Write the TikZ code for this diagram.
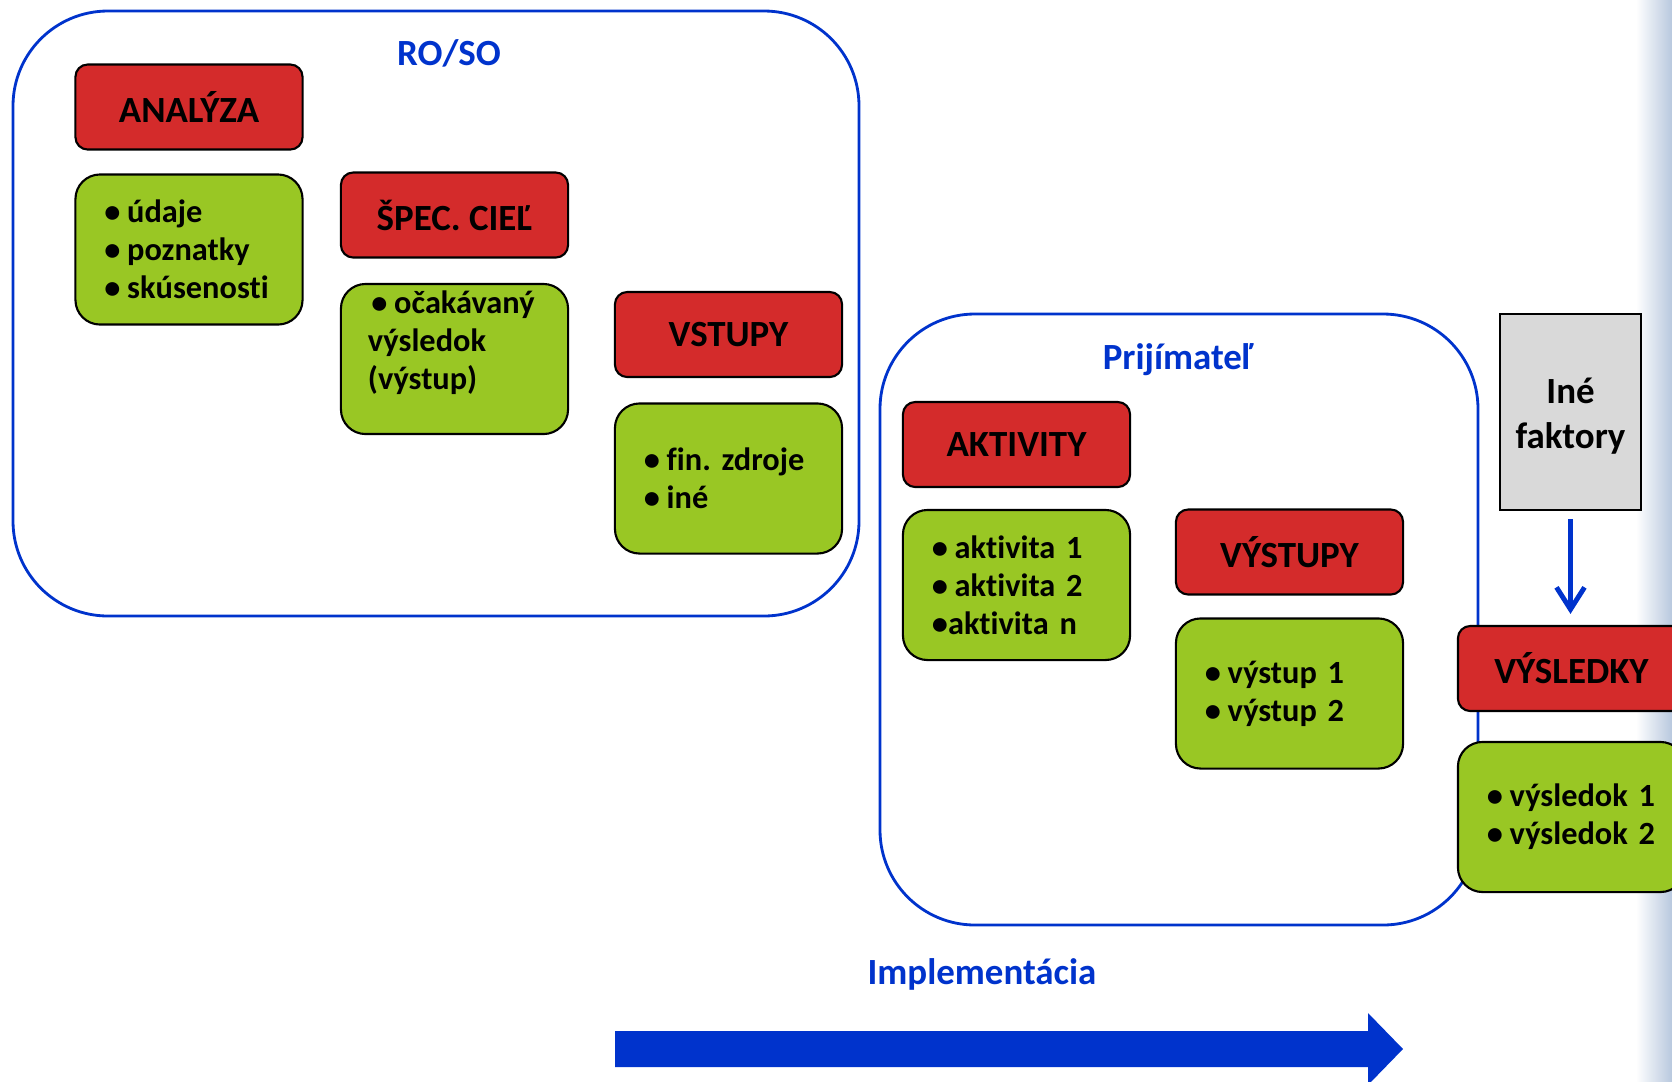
\documentclass[tikz,border=0pt]{standalone}
\usepackage{fontspec}
\setmainfont{Carlito}[Ligatures=NoCommon]
\usetikzlibrary{arrows.meta}
\definecolor{boxred}{RGB}{212,43,43}
\definecolor{boxgreen}{RGB}{153,199,36}
\definecolor{roblue}{RGB}{0,51,204}
\definecolor{boxgray}{RGB}{217,217,217}
\definecolor{stripblue}{RGB}{184,200,222}
\hyphenpenalty=10000
\exhyphenpenalty=10000
\newcommand{\lbul}{•\hspace{1.9pt}}
\begin{document}
\begin{tikzpicture}[x=0.01cm,y=-0.01cm,
    every node/.style={font=\bfseries\fontsize{10.5}{10.8}\selectfont},
    redbox/.style={draw,line width=0.6pt,fill=boxred,rounded corners=3.5pt,
        minimum width=2.27cm,minimum height=0.85cm,inner sep=0pt},
    greenbox/.style={draw,line width=0.6pt,fill=boxgreen,rounded corners=7pt,
        minimum width=2.27cm,minimum height=1.5cm,text width=1.69cm,
        inner xsep=0.29cm,inner ysep=0pt,align=left,
        font=\bfseries\fontsize{9.2}{10.8}\selectfont},
    framebox/.style={draw=roblue,line width=0.8pt,rounded corners=27pt},
    bluetext/.style={text=roblue}]
    \useasboundingbox (0,0) rectangle (1672,1081);
    \clip (0,0) rectangle (1672,1081);
    \shade[left color=white,right color=stripblue] (1636,0) rectangle (1672,1081);
    % RO/SO a prijimatel
    \draw[framebox] (13,11) rectangle (859,616);
    \draw[framebox] (880,314) rectangle (1478,925);
    \node[bluetext] (roso) at (449,53) {RO/SO};
    \node[bluetext] (prij) at (1178,360) {Prijímateľ};
    % cervene
    \foreach \x/\y/\n/\t in {189/107/analyza/ANALÝZA, 454.5/215/ciel/ŠPEC. CIEĽ,
        728.5/334.5/vstupy/VSTUPY, 1016.5/444.5/aktivity/AKTIVITY,
        1289.5/552/vystupy/VÝSTUPY, 1571.5/668.5/vysledky/VÝSLEDKY}
    \node[redbox] (\n) at (\x,\y) {\t};
    % zelene
    \foreach \x/\y/\n/\t in {189/249.5/udaje/{\lbul údaje\\\lbul poznatky\\\lbul skúsenosti},
        728.5/478.5/zdroje/{\lbul fin.~zdroje\\\lbul iné},
        1016.5/585/aktlist/{\lbul aktivita~1\\\lbul aktivita~2\\•aktivita~n},
        1289.5/693.5/vystlist/{\lbul výstup~1\\\lbul výstup~2},
        1571.5/817/vyslist/{\lbul výsledok~1\\\lbul výsledok~2}}
    \node[greenbox] (\n) at (\x,\y) {\t};
    \node[greenbox,inner xsep=0.27cm,text width=1.73cm] (vysledok) at (454.5,359)
        {\hspace{1pt}\lbul očakávaný\\výsledok\\(výstup)\\\mbox{}};
    % ine faktory
    \node[draw,line width=0.5pt,fill=boxgray,minimum width=1.41cm,minimum height=1.965cm,
        align=center,font=\bfseries\fontsize{10.5}{12.8}\selectfont] (ine) at (1570.5,412)
        {\raisebox{-1.2pt}[\height][\depth]{Iné}\\\raisebox{-1.2pt}[\height][\depth]{faktory}};
    \draw[roblue,line width=1.4pt,-{Straight Barb[length=2.2mm,width=2.8mm]},
        shorten <=0.08cm,shorten >=0.11cm] (ine.south) -- (ine.south |- vysledky.north);
    % implementacia
    \node[bluetext] (impl) at (982,974) {Implementácia};
    \fill[roblue] (615,1031) -- (1368,1031) -- (1368,1013) -- (1403,1049)
        -- (1368,1085) -- (1368,1067) -- (615,1067) -- cycle;
\end{tikzpicture}
\end{document}
